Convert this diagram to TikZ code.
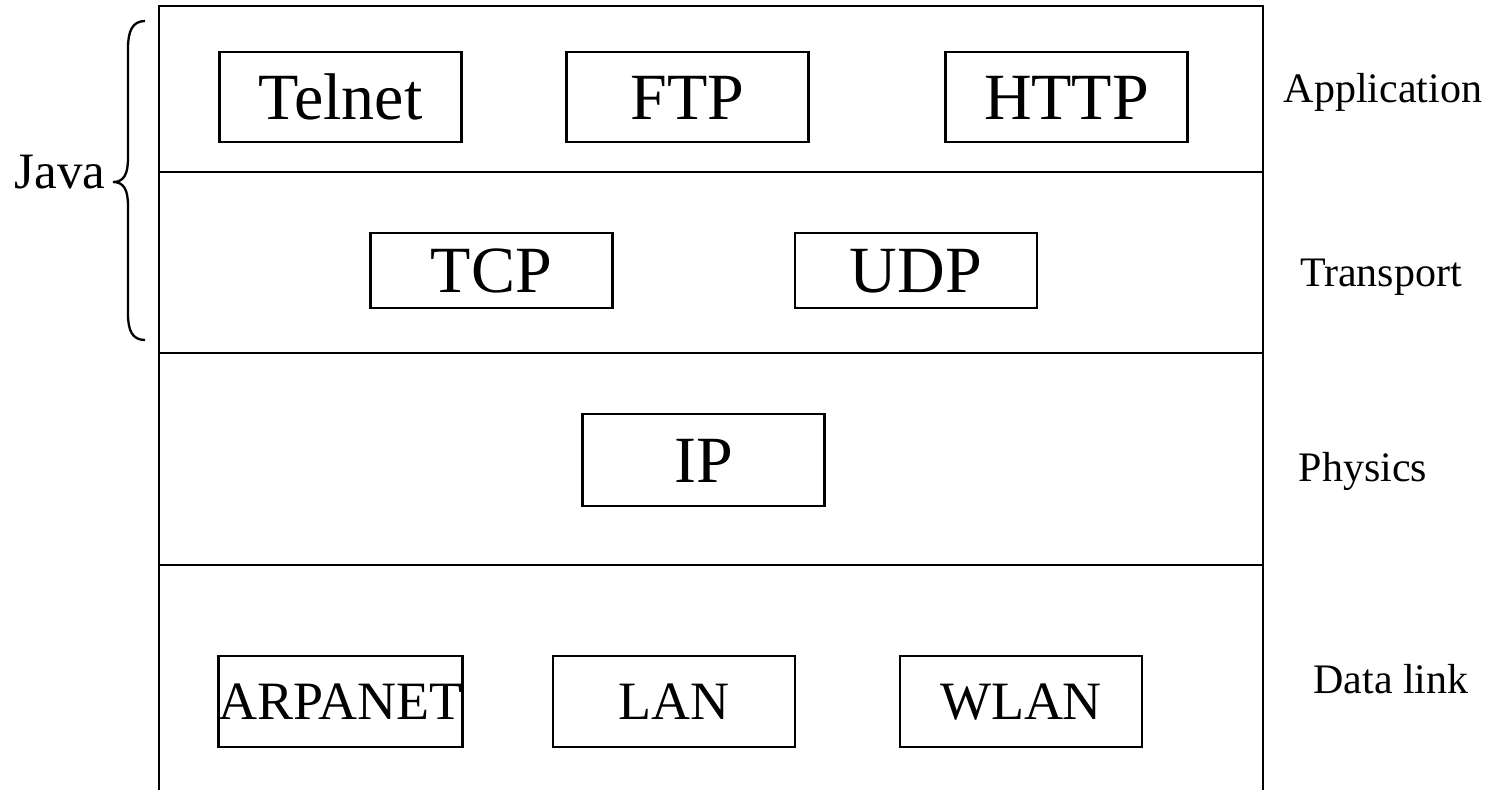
\documentclass[tikz,border=0pt]{standalone}
\usepackage{fontspec}
\setmainfont{Liberation Serif}
\begin{document}
\begin{tikzpicture}[x=1pt,y=-1pt,
  frame/.style={line width=2.5pt},
  proto/.style={draw,line width=2.5pt,inner sep=0pt,minimum width=242pt,
    font=\fontsize{66}{66}\selectfont,text height=44pt,text depth=0pt},
  link/.style={proto,minimum height=91pt,font=\fontsize{54}{54}\selectfont,text height=36pt},
  layerlabel/.style={anchor=base,inner sep=0pt,font=\fontsize{42}{42}\selectfont}]
\useasboundingbox (0,0) rectangle (1501,790);
% stack frame
\draw[frame] (159,790) -- (159,6) -- (1263,6) -- (1263,790);
\draw[frame] (159,172) -- (1263,172);
\draw[frame] (159,353) -- (1263,353);
\draw[frame] (159,565) -- (1263,565);
% application
\node[proto,minimum height=90pt] (telnet) at (340.5,97) {Telnet};
\node[proto,minimum height=90pt] (ftp) at (687.5,97) {FTP};
\node[proto,minimum height=90pt] (http) at (1066.5,97) {HTTP};
% transport
\node[proto,minimum height=75pt] (tcp) at (491.5,270.5) {TCP};
\node[proto,minimum height=75pt] (udp) at (916,270.5) {UDP};
% physics
\node[proto,minimum height=92pt] (ip) at (703.5,460) {IP};
% data link
\node[link] (arpanet) at (340.5,701.5) {ARPANET};
\node[link] (lan) at (674,701.5) {LAN};
\node[link] (wlan) at (1021,701.5) {WLAN};
% layer names
\node[layerlabel] (app) at (1383,102) {Application};
\node[layerlabel] (trans) at (1381,286) {Transport};
\node[layerlabel] (phys) at (1363,481) {Physics};
\node[layerlabel] (dl) at (1391,693) {Data link};
% java brace
\node[anchor=base,inner sep=0pt,font=\fontsize{51}{51}\selectfont] (java) at (60,188) {Java};
\draw[line width=2.3pt] (145,21) .. controls (132,21) and (128,32) .. (128,48) -- (128,158)
  .. controls (128,174) and (124,182) .. (113,182)
  .. controls (124,182) and (128,190) .. (128,206) -- (128,314)
  .. controls (128,330) and (132,340) .. (145,340);
\end{tikzpicture}
\end{document}
